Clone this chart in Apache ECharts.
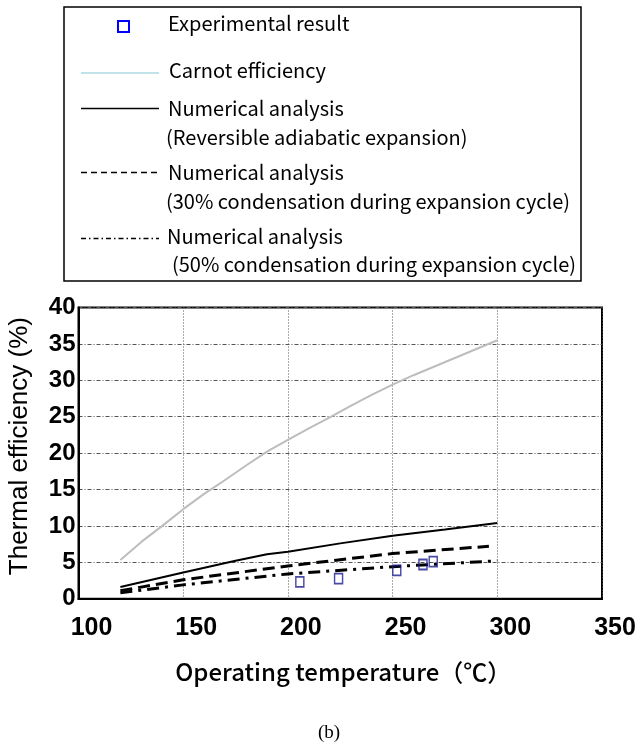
<!DOCTYPE html>
<html>
<head>
<meta charset="utf-8">
<script src="https://cdn.jsdelivr.net/npm/echarts@6/dist/echarts.min.js"></script>
<style>
  html, body { margin: 0; padding: 0; background: #fff; }
  #chart { width: 636px; height: 749px; }
</style>
</head>
<body>
<div id="chart"></div>
<script>
  // values
  var carnotT   = [120, 130, 140, 150, 160, 170, 180, 190, 200, 210, 220, 230, 240, 250, 260, 270, 280, 290, 300];
  var carnotEff = [5.3, 7.8, 10.0, 12.3, 14.4, 16.3, 18.3, 20.2, 21.8, 23.4, 24.9, 26.5, 28.0, 29.4, 30.7, 31.9, 33.1, 34.3, 35.5];

  var revT   = [120, 150, 175, 190, 200, 225, 250, 275, 300];
  var revEff = [1.6, 3.6, 5.2, 6.1, 6.45, 7.6, 8.65, 9.5, 10.4];

  var c30T   = [120, 150, 200, 250, 296];
  var c30Eff = [1.1, 2.6, 4.5, 6.2, 7.2];

  var c50T   = [120, 150, 200, 250, 300];
  var c50Eff = [0.8, 1.9, 3.4, 4.4, 5.2];

  var expT   = [205.7, 224.2, 252, 264.5, 269.4];
  var expEff = [2.3, 2.75, 3.9, 4.7, 5.1];

  var xTicks = [100, 150, 200, 250, 300, 350];
  var yTicks = [0, 5, 10, 15, 20, 25, 30, 35, 40];

  function pairs(xs, ys) {
    return xs.map(function (x, i) { return [x, ys[i]]; });
  }

  var legendFont = '"Noto Sans CJK JP", sans-serif';
  var tickFont = '"Liberation Sans", Arial, sans-serif';
  var lf = '20px ' + legendFont;

  var myChart = echarts.init(document.getElementById('chart'));

  myChart.setOption({
    backgroundColor: '#ffffff',
    animation: false,
    grid: {
      left: 78.5,
      right: 34,
      top: 307.5,
      bottom: 150.3,
      outerBoundsMode: 'none',
      containLabel: false,
      show: true,
      borderColor: '#000',
      borderWidth: 2
    },
    xAxis: {
      type: 'value',
      min: xTicks[0],
      max: xTicks[xTicks.length - 1],
      interval: 50,
      name: 'Operating temperature（℃）',
      nameLocation: 'middle',
      nameGap: 61,
      nameTextStyle: { fontFamily: legendFont, fontSize: 24, color: '#000', fontWeight: 500, padding: [0, 0, 0, 6] },
      axisLine: { lineStyle: { color: '#000', width: 2 } },
      axisTick: { show: false },
      axisLabel: { fontFamily: tickFont, fontSize: 25, fontWeight: 'bold', color: '#000', margin: 17, padding: [0, 0, 0, 26] },
      splitLine: { show: true, lineStyle: { color: '#555', width: 1, type: [1, 2] } }
    },
    yAxis: {
      type: 'value',
      min: yTicks[0],
      max: yTicks[yTicks.length - 1],
      interval: 5,
      name: 'Thermal efficiency (%)',
      nameLocation: 'middle',
      nameGap: 46,
      nameTextStyle: { fontFamily: tickFont, fontSize: 26, color: '#000', padding: [0, 0, 0, 14] },
      axisLine: { lineStyle: { color: '#000', width: 2 } },
      axisTick: { show: false },
      axisLabel: { fontFamily: tickFont, fontSize: 24, fontWeight: 'bold', color: '#000', margin: 3 },
      splitLine: { show: true, lineStyle: { color: '#555', width: 1, type: [4, 2, 1, 2] } }
    },
    series: [
      {
        name: 'Carnot efficiency',
        type: 'line',
        data: pairs(carnotT, carnotEff),
        symbol: 'none',
        lineStyle: { color: '#bdbdbd', width: 2 }
      },
      {
        name: 'Reversible adiabatic expansion',
        type: 'line',
        data: pairs(revT, revEff),
        symbol: 'none',
        lineStyle: { color: '#000', width: 2 }
      },
      {
        name: '30% condensation',
        type: 'line',
        data: pairs(c30T, c30Eff),
        symbol: 'none',
        lineStyle: { color: '#000', width: 3, type: [12, 6] }
      },
      {
        name: '50% condensation',
        type: 'line',
        data: pairs(c50T, c50Eff),
        symbol: 'none',
        lineStyle: { color: '#000', width: 3, type: [12, 6, 3, 6] }
      },
      {
        name: 'Experimental result',
        type: 'scatter',
        data: pairs(expT, expEff),
        symbol: 'rect',
        symbolSize: [8, 10],
        itemStyle: { color: 'rgba(255,255,255,0)', borderColor: '#1c1c90', borderWidth: 1.6 },
        z: 5
      }
    ],
    graphic: [
      // legend box
      { type: 'rect', shape: { x: 64, y: 7, width: 517, height: 274 },
        style: { fill: '#fff', stroke: '#000', lineWidth: 1.5 } },
      { type: 'rect', shape: { x: 118, y: 21, width: 11, height: 11 },
        style: { fill: 'none', stroke: '#0000ff', lineWidth: 2 } },
      { type: 'text', x: 168, y: 23, style: { text: 'Experimental result', font: lf, fill: '#000', verticalAlign: 'middle' } },

      { type: 'line', shape: { x1: 81, y1: 73, x2: 159, y2: 73 }, style: { stroke: '#add8e0', lineWidth: 1.5 } },
      { type: 'text', x: 169, y: 70, style: { text: 'Carnot efficiency', font: lf, fill: '#000', verticalAlign: 'middle' } },

      { type: 'line', shape: { x1: 81, y1: 108.5, x2: 159, y2: 108.5 }, style: { stroke: '#000', lineWidth: 1.5 } },
      { type: 'text', x: 168, y: 108, style: { text: 'Numerical analysis', font: lf, fill: '#000', verticalAlign: 'middle' } },
      { type: 'text', x: 166, y: 137, style: { text: '(Reversible adiabatic expansion)', font: lf, fill: '#000', verticalAlign: 'middle' } },

      { type: 'line', shape: { x1: 81, y1: 172.5, x2: 159, y2: 172.5 }, style: { stroke: '#000', lineWidth: 1.5, lineDash: [6, 4] } },
      { type: 'text', x: 168, y: 172, style: { text: 'Numerical analysis', font: lf, fill: '#000', verticalAlign: 'middle' } },
      { type: 'text', x: 166, y: 201, style: { text: '(30% condensation during expansion cycle)', font: lf, fill: '#000', verticalAlign: 'middle' } },

      { type: 'line', shape: { x1: 81, y1: 238.5, x2: 159, y2: 238.5 }, style: { stroke: '#000', lineWidth: 1.5, lineDash: [5, 3, 1.5, 3] } },
      { type: 'text', x: 167, y: 236, style: { text: 'Numerical analysis', font: lf, fill: '#000', verticalAlign: 'middle' } },
      { type: 'text', x: 172, y: 264, style: { text: '(50% condensation during expansion cycle)', font: lf, fill: '#000', verticalAlign: 'middle' } },

      // caption
      { type: 'text', x: 329, y: 733, style: { text: '(b)', font: '19px "Liberation Serif", "Times New Roman", serif', fill: '#000', align: 'center', verticalAlign: 'middle' } }
    ]
  });
</script>
</body>
</html>
